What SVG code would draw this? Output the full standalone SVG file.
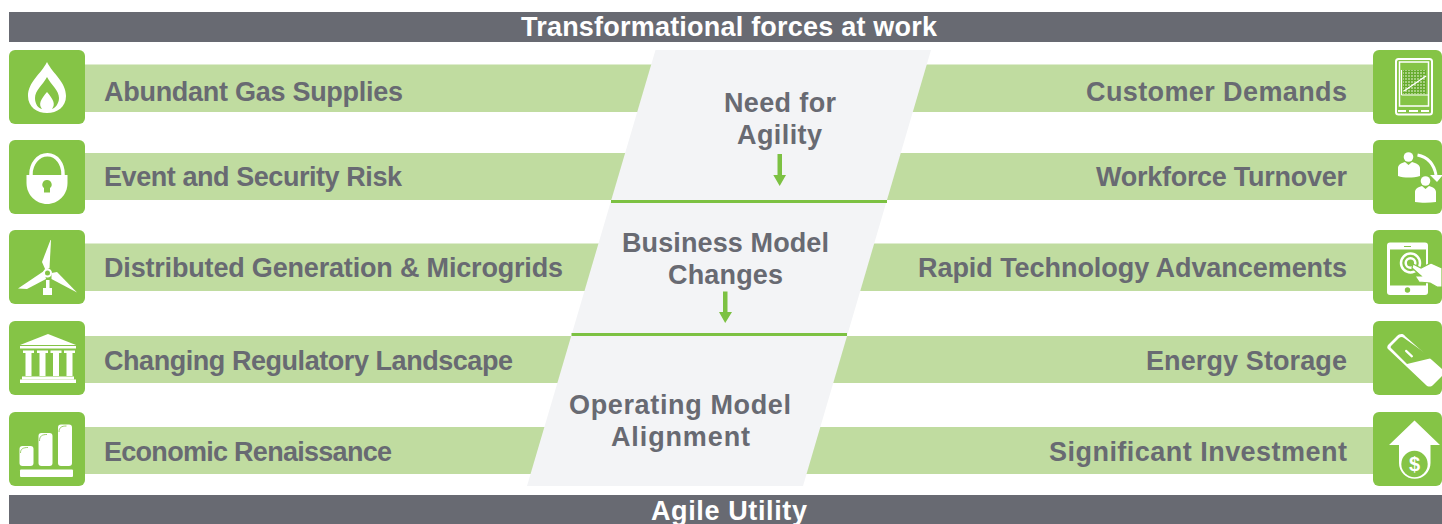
<svg xmlns="http://www.w3.org/2000/svg" width="1442" height="524" viewBox="0 0 1442 524">
<defs>
<pattern id="plot" width="3" height="3" patternUnits="userSpaceOnUse" x="1403" y="70">
<rect width="3" height="3" fill="#d3e9b8"/>
<path d="M1.500 0V3M0 1.500H3" stroke="#66ab2e" stroke-width="1.400"/>
</pattern>
</defs>
<style>
.hdr{fill:#686a72}
.band{fill:#c0dca0}
.tile{fill:#85c446}
.w{fill:#fff}
.ws{fill:none;stroke:#fff}
.gs{fill:none;stroke:#85c446}
.g{fill:#85c446}
text{font-family:"Liberation Sans",Arial,sans-serif;font-weight:700}
.t{font-size:27px;fill:#fff;text-anchor:middle}
.l{font-size:27px;fill:#686a72}
.r{text-anchor:end}
.c{font-size:27px;fill:#686a72;text-anchor:middle}
.rule{fill:#7cc142}
</style>
<rect width="1442" height="524" fill="#fff"/>
<g id="header"><rect class="hdr" x="9" y="12" width="1433" height="30"/><text class="t" x="729" y="36" textLength="416">Transformational forces at work</text></g>
<g id="footer"><rect class="hdr" x="9" y="495" width="1433" height="29"/><text class="t" x="729" y="520" textLength="156">Agile Utility</text></g>

<g id="bands">
<rect class="band" x="85" y="64.500" width="1288" height="47.500"/>
<rect class="band" x="85" y="153" width="1288" height="47"/>
<rect class="band" x="85" y="243.500" width="1288" height="47.500"/>
<rect class="band" x="85" y="336" width="1288" height="47"/>
<rect class="band" x="85" y="427" width="1288" height="47"/>
</g>

<g id="center">
<polygon points="655.500,50 931,50 803,486 527,486" fill="#f3f4f6"/>
<rect class="rule" x="611" y="200" width="276" height="3"/>
<rect class="rule" x="571.500" y="333" width="275.500" height="3"/>
<text class="c" x="780" y="112" textLength="112">Need for</text>
<text class="c" x="779.500" y="144" textLength="85">Agility</text>
<text class="c" x="725.500" y="252" textLength="207">Business Model</text>
<text class="c" x="725.500" y="284" textLength="115">Changes</text>
<text class="c" x="680" y="414" textLength="222">Operating Model</text>
<text class="c" x="680.500" y="446" textLength="139">Alignment</text>
</g>
<g id="connectors">
<polygon class="rule" points="777.500,154 782,154 782,175 786,175 779.700,186 773.300,175 777.500,175"/>
<polygon class="rule" points="723,291.500 727.500,291.500 727.500,312 732,312 725.200,323 719,312 723,312"/>
</g>

<g id="n1"><rect class="tile" x="9" y="50" width="76" height="74" rx="6"/>
<path class="w" d="M47 62C53 74 66 82 66 96C66 107 57 113 47 113C37 113 28 107 28 96C28 82 41 74 47 62Z"/>
<path class="g" d="M47 77C51 85 59 90 59 98C59 104 55 108 52 109C56 104 53 99 47 92C41 99 38 104 42 109C38 108 35 104 35 98C35 90 43 85 47 77Z"/>
<text class="l" x="104" y="100.500" textLength="299">Abundant Gas Supplies</text></g>

<g id="n2"><rect class="tile" x="9" y="140" width="76" height="74" rx="6"/>
<path class="ws" stroke-width="3.500" d="M31 177V174C31 164 38 154.800 47.500 154.800C57 154.800 63 164 63 174V177"/>
<path class="w" d="M26.500 175H67.500V183C67.500 195 58 204 47 204C36 204 26.500 195 26.500 183Z"/>
<path class="g" d="M47 180A4.500 4.500 0 0 1 50 188V192.500H44V188A4.500 4.500 0 0 1 47 180Z"/>
<text class="l" x="104" y="185.500" textLength="298">Event and Security Risk</text></g>

<g id="n3"><rect class="tile" x="9" y="230" width="76" height="74" rx="6"/>
<path class="w" d="M50.500 240L51 240L49.500 268L45.500 270L42 262Z"/>
<path class="w" d="M44 271L46 279L27 289L18 288.500Z"/>
<path class="w" d="M51.500 273L57 272L77 292.500L51.500 279Z"/>
<circle class="ws" cx="47.500" cy="273" r="3.500" stroke-width="2"/>
<path class="w" d="M46 280H49.500V288H52V295H43V288H46Z"/>
<text class="l" x="104" y="276.500" textLength="459">Distributed Generation &amp; Microgrids</text></g>

<g id="n4"><rect class="tile" x="9" y="321" width="76" height="74" rx="6"/>
<path class="w" d="M48 334L76 345H20Z"/>
<rect class="w" x="20" y="346" width="56" height="2.500"/>
<path class="w" d="M23 350.500H34V353H31.500V376H25.500V353H23Z"/>
<path class="w" d="M37 350.500H48V353H45.500V376H39.500V353H37Z"/>
<path class="w" d="M50.500 350.500H61.500V353H59V376H53V353H50.500Z"/>
<path class="w" d="M64 350.500H75V353H72.500V376H66.500V353H64Z"/>
<rect class="w" x="22" y="376.500" width="52" height="3"/>
<rect class="w" x="20" y="379.500" width="56" height="3.500"/>
<text class="l" x="104" y="369.500" textLength="409">Changing Regulatory Landscape</text></g>

<g id="n5"><rect class="tile" x="9" y="412" width="76" height="74" rx="6"/>
<rect class="w" x="19.500" y="446" width="14" height="20" rx="3"/>
<rect class="w" x="38.500" y="433" width="14" height="33" rx="3"/>
<rect class="w" x="58" y="424.500" width="14" height="41.500" rx="3"/>
<path class="gs" stroke-width=".8" d="M20.500 453C20.500 449 23 447.500 28 447.500M39.500 441C39.500 436 42 434.500 47 434.500M59 432C59 427.500 61.500 426 66.500 426"/>
<rect class="w" x="20" y="469.500" width="53" height="7.500" rx="1"/>
<text class="l" x="104" y="460.500" textLength="288">Economic Renaissance</text></g>

<g id="n6"><rect class="tile" x="1373" y="50" width="69" height="74" rx="6"/>
<rect class="ws" x="1396" y="59" width="36" height="55.500" rx="2.500" stroke-width="2"/>
<rect class="ws" x="1399.500" y="62" width="29" height="44" stroke-width="1.500"/>
<rect x="1403" y="70" width="23" height="24" fill="url(#plot)"/>
<path class="ws" stroke-width="1" d="M1401.500 70V95H1428"/>
<path class="ws" stroke-width="1.500" d="M1404 91L1426 76"/>
<rect class="w" x="1398" y="110" width="8" height="2"/><rect class="w" x="1409" y="110" width="9" height="2"/><rect class="w" x="1421" y="110" width="8" height="2"/>
<text class="l r" x="1347" y="100.500" textLength="261">Customer Demands</text></g>

<g id="n7"><rect class="tile" x="1373" y="140" width="69" height="74" rx="6"/>
<circle class="w" cx="1408.500" cy="157" r="4.800"/>
<path class="w" d="M1398 176V168C1398 165 1401 163 1405 162L1408.500 165L1412 162C1416 163 1420 165 1420 168V176C1413 178 1404 178 1398 176Z"/>
<circle class="w" cx="1425.500" cy="181" r="4.800"/>
<path class="w" d="M1415 202V192C1415 189 1418 187 1422 186L1425.500 189L1429 186C1433 187 1436 189 1436 192V202C1429 203 1421 203 1415 202Z"/>
<path class="ws" stroke-width="3" d="M1417.500 155C1427 157 1434 164 1436 175"/>
<path class="w" d="M1430 175H1442V176L1437 182Z"/>
<text class="l r" x="1347" y="185.500" textLength="251">Workforce Turnover</text></g>

<g id="n8"><rect class="tile" x="1373" y="230" width="69" height="74" rx="6"/>
<rect class="w" x="1387" y="242.500" width="41" height="52.500" rx="3"/>
<rect class="g" x="1390" y="249.500" width="36" height="36"/>
<circle class="g" cx="1407.500" cy="290" r="2.700"/>
<rect class="g" x="1404" y="246" width="7" height="1"/>
<circle class="ws" cx="1410.500" cy="263" r="9.500" stroke-width="2.500"/>
<circle class="ws" cx="1410.500" cy="263" r="4.800" stroke-width="2.500"/>
<path class="w" stroke="#85c446" stroke-width="1.200" d="M1413 264L1421 268L1431 263L1442 268V287L1437 287L1430 283L1419 282L1415 276L1421 276L1412 268Z"/>
<text class="l r" x="1347" y="276.500" textLength="429">Rapid Technology Advancements</text></g>

<g id="n9"><rect class="tile" x="1373" y="321" width="69" height="74" rx="6"/>
<path class="w" d="M1397 336L1388 345C1387 347 1387 348 1388 349L1426 385C1428 387 1431 387 1433 385L1442 376V369L1405 336C1403 333 1399 334 1397 336Z"/>
<path class="g" d="M1399 338L1391 346C1390.500 347 1390.500 347.500 1391 348L1407 364L1432 358L1404 338C1402.500 336.500 1400.500 336.500 1399 338Z"/>
<rect class="w" x="1404" y="352.500" width="10" height="2.200" rx="1" transform="rotate(43 1409 353.600)"/>
<text class="l r" x="1347" y="369.500" textLength="201">Energy Storage</text></g>

<g id="n10"><rect class="tile" x="1373" y="412" width="69" height="74" rx="6"/>
<path class="w" d="M1414.500 420.500L1440 445H1430.500V463A15.500 15.500 0 0 1 1399 463V445H1389Z"/>
<circle class="g" cx="1414.500" cy="464" r="13.200"/>
<text x="1414.500" y="471" font-size="20" text-anchor="middle" fill="#fff">$</text>
<text class="l r" x="1347" y="460.500" textLength="298">Significant Investment</text></g>
</svg>
